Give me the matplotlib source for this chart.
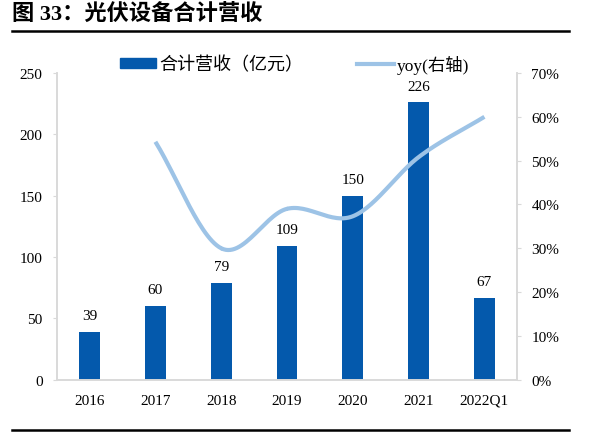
import numpy as np
import matplotlib.pyplot as plt
from matplotlib.lines import Line2D
from matplotlib.patches import Patch

plt.rcParams['font.family'] = ['Liberation Serif', 'Noto Sans CJK SC']

years = ['2016', '2017', '2018', '2019', '2020', '2021', '2022Q1']
revenue = [39, 60, 79, 109, 150, 226, 67]
yoy = [None, 0.543, 0.30, 0.39, 0.373, 0.508, 0.60]

bar_color = '#0459AC'
line_color = '#9DC3E6'


def smooth(xs, ys, n=30):
    # Catmull-Rom spline, like Excel's smoothed line
    xs = np.asarray(xs, float)
    ys = np.asarray(ys, float)
    px = np.concatenate([[2 * xs[0] - xs[1]], xs, [2 * xs[-1] - xs[-2]]])
    py = np.concatenate([[2 * ys[0] - ys[1]], ys, [2 * ys[-1] - ys[-2]]])
    outx, outy = [], []
    for i in range(1, len(px) - 2):
        t = np.linspace(0, 1, n)
        for p, out in ((px, outx), (py, outy)):
            p0, p1, p2, p3 = p[i - 1], p[i], p[i + 1], p[i + 2]
            out.extend(0.5 * (2 * p1 + (-p0 + p2) * t
                              + (2 * p0 - 5 * p1 + 4 * p2 - p3) * t ** 2
                              + (-p0 + 3 * p1 - 3 * p2 + p3) * t ** 3))
    return np.array(outx), np.array(outy)


fig = plt.figure(figsize=(5.96, 4.39), dpi=100)
ax = fig.add_axes([56.7 / 596, 1 - 380.7 / 439, 460.6 / 596, 306.7 / 439])
x = np.arange(len(years))
ax.bar(x, revenue, width=0.315, color=bar_color, zorder=2)
for xi, v in zip(x, revenue):
    ax.text(xi, v + 8, str(v), ha='center', va='bottom', fontsize=11)

ax.set_xlim(-0.5, len(years) - 0.5)
ax.set_ylim(0, 250)
ax.set_yticks(range(0, 251, 50))
ax.set_xticks(x)
ax.set_xticklabels(years)
ax.tick_params(axis='both', labelsize=11, colors='#D9D9D9', labelcolor='black')
ax.tick_params(axis='x', length=0, pad=10)
ax.tick_params(axis='y', length=3.2, pad=7)

ax2 = ax.twinx()
xv = [xi for xi, v in zip(x, yoy) if v is not None]
yv = [v for v in yoy if v is not None]
sx, sy = smooth(xv, yv)
ax2.plot(sx, sy, color=line_color, lw=3, solid_capstyle='butt', zorder=3)
ax2.set_ylim(0, 0.7)
ax2.set_yticks(np.arange(0, 0.71, 0.1))
ax2.set_yticklabels([f'{int(round(t * 100))}%' for t in np.arange(0, 0.71, 0.1)])
ax2.tick_params(axis='y', labelsize=11, colors='#D9D9D9', labelcolor='black',
                length=3.2, pad=7)

for a in (ax, ax2):
    a.spines['top'].set_visible(False)
    for s in ('left', 'right', 'bottom'):
        a.spines[s].set_color('#D9D9D9')
        a.spines[s].set_linewidth(1.2)

handles = [Patch(color=bar_color), Line2D([], [], color=line_color, lw=3)]
leg = fig.legend(handles, ['合计营收（亿元）', 'yoy(右轴)'], loc='center',
                 bbox_to_anchor=(294.5 / 596, 1 - 65 / 439), ncol=2, frameon=False,
                 fontsize=13, handlelength=2.0, handleheight=0.4,
                 columnspacing=3.0, handletextpad=0.17, borderpad=0)
leg.get_texts()[0].set_family(['Noto Sans CJK SC'])
leg.get_texts()[0].set_fontweight('light')
leg.get_texts()[1].set_fontsize(12.5)

fig.text(12 / 596, 1 - 15 / 439, '图 33：光伏设备合计营收', fontsize=16,
         fontweight='bold', va='center', ha='left')
fig.add_artist(Line2D([12 / 596, 569 / 596], [1 - 31.5 / 439] * 2, color='black', lw=1.8))
fig.add_artist(Line2D([12 / 596, 569 / 596], [1 - 431 / 439] * 2, color='black', lw=1.8))

plt.savefig('out.png', dpi=100)
